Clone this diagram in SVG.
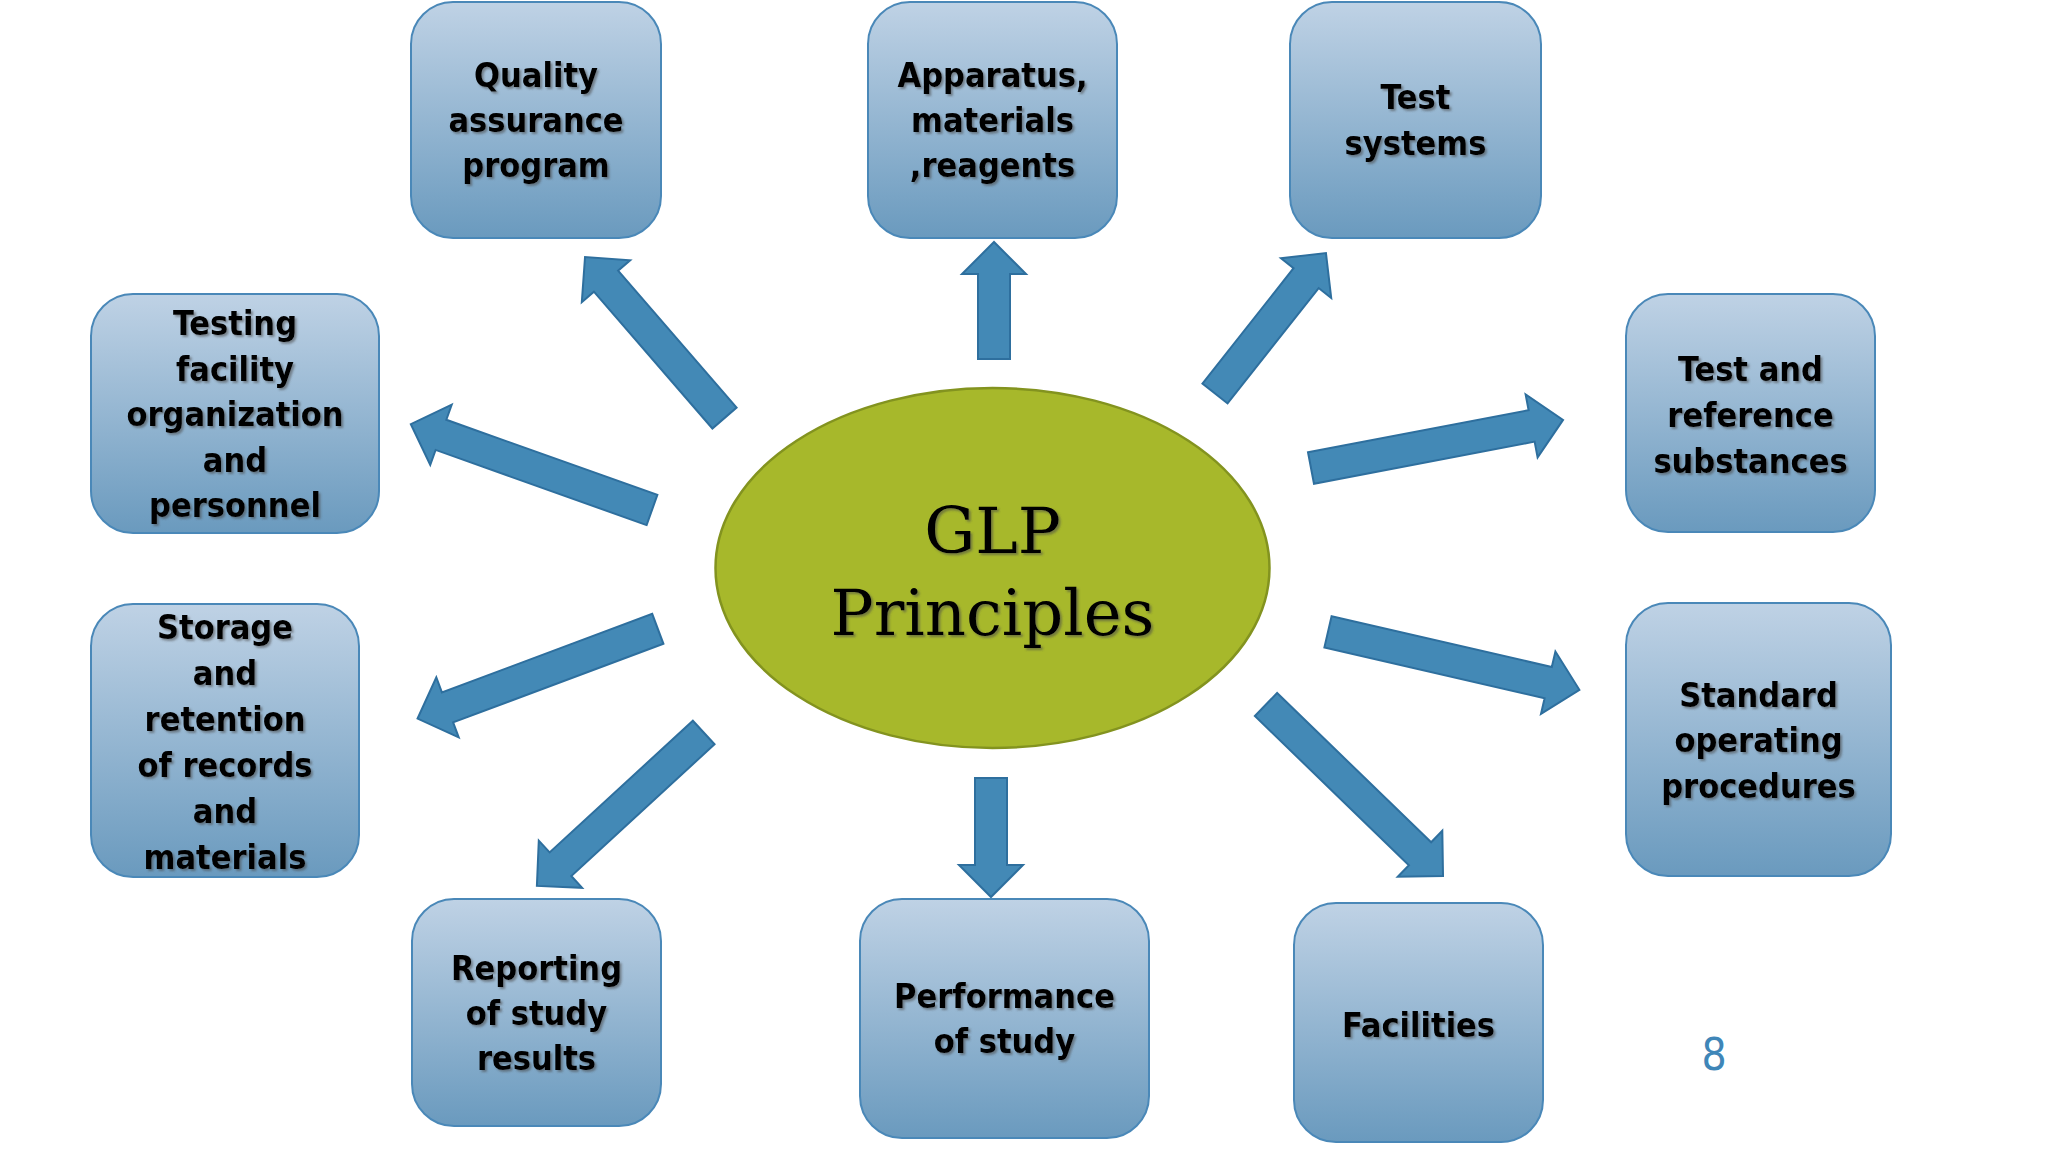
<svg xmlns="http://www.w3.org/2000/svg" width="2048" height="1152" viewBox="0 0 2048 1152">
<defs>
<linearGradient id="boxGrad" x1="0" y1="0" x2="0" y2="1">
<stop offset="0" stop-color="#bfd2e5"/>
<stop offset="1" stop-color="#6a9abe"/>
</linearGradient>
<filter id="shadow" x="-10%" y="-10%" width="120%" height="130%">
<feDropShadow dx="2" dy="2" stdDeviation="1.2" flood-color="#4a4a4a" flood-opacity="0.55"/>
</filter>
</defs>
<style>
.box{fill:url(#boxGrad);stroke:#4a88b8;stroke-width:2}
.lbl{font-family:"DejaVu Sans Condensed","DejaVu Sans",sans-serif;font-stretch:condensed;font-weight:bold;font-size:34px;fill:#000;text-anchor:middle;filter:url(#shadow)}
.arrow{fill:#4389b6;stroke:#2e6f9e;stroke-width:2;stroke-linejoin:miter}
.center{fill:#a7b82b;stroke:#83931f;stroke-width:2.5}
.title{font-family:"DejaVu Serif",serif;font-size:64px;fill:#000;text-anchor:middle;filter:url(#shadow)}
.pg{font-family:"DejaVu Sans Condensed","DejaVu Sans",sans-serif;font-stretch:condensed;font-size:44px;fill:#3f86b8;text-anchor:middle}
</style>
<rect width="2048" height="1152" fill="#ffffff"/>

<g id="connectors">
<polygon class="arrow" transform="translate(724.5,418) rotate(229.1)" points="0,-16 181,-16 181,-32 213,0 181,32 181,16 0,16"/>
<polygon class="arrow" transform="translate(994,359) rotate(-90)" points="0,-16 85,-16 85,-32 117,0 85,32 85,16 0,16"/>
<polygon class="arrow" transform="translate(1215,393.5) rotate(-51.7)" points="0,-16 147,-16 147,-32 179,0 147,32 147,16 0,16"/>
<polygon class="arrow" transform="translate(1311,468) rotate(-10.8)" points="0,-16 224.6,-16 224.6,-32 256.6,0 224.6,32 224.6,16 0,16"/>
<polygon class="arrow" transform="translate(652,510) rotate(199.6)" points="0,-16 224,-16 224,-32 256,0 224,32 224,16 0,16"/>
<polygon class="arrow" transform="translate(657.8,628.8) rotate(159.5)" points="0,-16 224.5,-16 224.5,-32 256.5,0 224.5,32 224.5,16 0,16"/>
<polygon class="arrow" transform="translate(703.7,732.5) rotate(137.4)" points="0,-16 194.6,-16 194.6,-32 226.6,0 194.6,32 194.6,16 0,16"/>
<polygon class="arrow" transform="translate(991,778) rotate(90)" points="0,-16 87,-16 87,-32 119,0 87,32 87,16 0,16"/>
<polygon class="arrow" transform="translate(1266,704.5) rotate(44.1)" points="0,-16 214.5,-16 214.5,-32 246.5,0 214.5,32 214.5,16 0,16"/>
<polygon class="arrow" transform="translate(1328,631.8) rotate(13)" points="0,-16 226,-16 226,-32 258,0 226,32 226,16 0,16"/>
</g>

<g id="node-center">
<ellipse class="center" cx="992.5" cy="568" rx="277" ry="180"/>
<text class="title" x="992.5" y="553">GLP</text>
<text class="title" x="992.5" y="635">Principles</text>
</g>

<g id="node-quality">
<rect class="box" x="411" y="2" width="250" height="236" rx="42"/>
<text class="lbl" x="536" y="87">Quality</text>
<text class="lbl" x="536" y="132">assurance</text>
<text class="lbl" x="536" y="177">program</text>
</g>

<g id="node-apparatus">
<rect class="box" x="868" y="2" width="249" height="236" rx="42"/>
<text class="lbl" x="992.5" y="87">Apparatus,</text>
<text class="lbl" x="992.5" y="132">materials</text>
<text class="lbl" x="992.5" y="177">,reagents</text>
</g>

<g id="node-test-systems">
<rect class="box" x="1290" y="2" width="251" height="236" rx="42"/>
<text class="lbl" x="1415.5" y="109">Test</text>
<text class="lbl" x="1415.5" y="155">systems</text>
</g>

<g id="node-testing-facility">
<rect class="box" x="91" y="294" width="288" height="239" rx="42"/>
<text class="lbl" x="235" y="335">Testing</text>
<text class="lbl" x="235" y="380.5">facility</text>
<text class="lbl" x="235" y="426">organization</text>
<text class="lbl" x="235" y="471.5">and</text>
<text class="lbl" x="235" y="517">personnel</text>
</g>

<g id="node-test-reference">
<rect class="box" x="1626" y="294" width="249" height="238" rx="42"/>
<text class="lbl" x="1750.5" y="381">Test and</text>
<text class="lbl" x="1750.5" y="427">reference</text>
<text class="lbl" x="1750.5" y="472.5">substances</text>
</g>

<g id="node-storage">
<rect class="box" x="91" y="604" width="268" height="273" rx="42"/>
<text class="lbl" x="225" y="639">Storage</text>
<text class="lbl" x="225" y="685">and</text>
<text class="lbl" x="225" y="731">retention</text>
<text class="lbl" x="225" y="777">of records</text>
<text class="lbl" x="225" y="823">and</text>
<text class="lbl" x="225" y="869">materials</text>
</g>

<g id="node-sop">
<rect class="box" x="1626" y="603" width="265" height="273" rx="42"/>
<text class="lbl" x="1758.5" y="707">Standard</text>
<text class="lbl" x="1758.5" y="752">operating</text>
<text class="lbl" x="1758.5" y="798">procedures</text>
</g>

<g id="node-reporting">
<rect class="box" x="412" y="899" width="249" height="227" rx="42"/>
<text class="lbl" x="536.5" y="980">Reporting</text>
<text class="lbl" x="536.5" y="1025">of study</text>
<text class="lbl" x="536.5" y="1070">results</text>
</g>

<g id="node-performance">
<rect class="box" x="860" y="899" width="289" height="239" rx="42"/>
<text class="lbl" x="1004.5" y="1008">Performance</text>
<text class="lbl" x="1004.5" y="1053">of study</text>
</g>

<g id="node-facilities">
<rect class="box" x="1294" y="903" width="249" height="239" rx="42"/>
<text class="lbl" x="1418.5" y="1037">Facilities</text>
</g>

<text class="pg" x="1714" y="1070">8</text>
</svg>
